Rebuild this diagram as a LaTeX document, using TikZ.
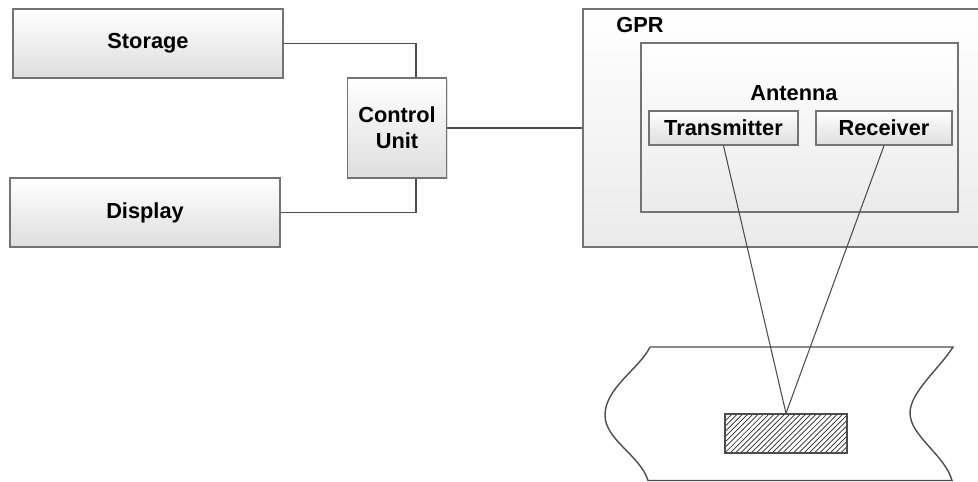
\documentclass[tikz,border=0pt]{standalone}
\usepackage{fontspec}
\setmainfont{Liberation Sans}
\usetikzlibrary{patterns,shadows}

\begin{document}
\begin{tikzpicture}[x=0.02cm, y=-0.02cm,
        box/.style={draw=black!55, line width=0.8pt, top color=white, bottom color=black!13,
            inner sep=0pt, align=center, font=\fontsize{12.4}{15}\selectfont\bfseries,
            drop shadow={shadow xshift=0.8pt, shadow yshift=-0.8pt, opacity=0.25}},
        panel/.style={box, bottom color=black!8},
        link/.style={line width=0.8pt, draw=black!70},
        lbl/.style={font=\fontsize{12.4}{15}\selectfont\bfseries, inner sep=0pt}]
        % 画布大小
        \useasboundingbox (0,0) rectangle (978,482);

        % 左侧方框
        \node[box, minimum width=5.4cm, minimum height=1.38cm] (storage) at (148,43.5) {Storage};
        \node[box, minimum width=5.4cm, minimum height=1.38cm] (display) at (145,212.5) {Display};
        \node[box, minimum width=1.98cm, minimum height=2cm] (ctrl) at (397,128) {Control\\Unit};

        % GPR 及天线
        \node[panel, minimum width=8cm, minimum height=4.76cm] (gpr) at (783,128) {};
        \node[lbl, anchor=west] (gprlabel) at (616,25) {GPR};
        \node[panel, minimum width=6.34cm, minimum height=3.38cm] (antenna) at (799.5,127.5) {};
        \node[lbl] (antlabel) at (794,93) {Antenna};
        \node[box, minimum width=2.98cm, minimum height=0.68cm] (tx) at (723.5,128) {Transmitter};
        \node[box, minimum width=2.72cm, minimum height=0.68cm] (rx) at (884,128) {Receiver};

        % 地层及目标
        \draw[line width=0.8pt, draw=black!70] (650,347) -- (953,347)
            .. controls (940,368) and (910,392) .. (910,413)
            .. controls (910,436) and (945,455) .. (952,480.5)
            -- (648,480.5)
            .. controls (640,455) and (605,440) .. (605,415)
            .. controls (605,388) and (640,368) .. (650,347);
        \node[draw=black!70, line width=0.8pt, pattern=north east lines, pattern color=black!85,
            minimum width=2.44cm, minimum height=0.78cm, inner sep=0pt] (target) at (786,433.5) {};

        % 连线
        \draw[link] (storage.east) -| ([xshift=0.38cm]ctrl.north);
        \draw[link] (display.east) -| ([xshift=0.38cm]ctrl.south);
        \draw[link] (ctrl.east) -- (gpr.west);
        \draw[link, line width=0.6pt] (tx.south) -- (target.north);
        \draw[link, line width=0.6pt] (rx.south) -- (target.north);
    \end{tikzpicture}
\end{document}
